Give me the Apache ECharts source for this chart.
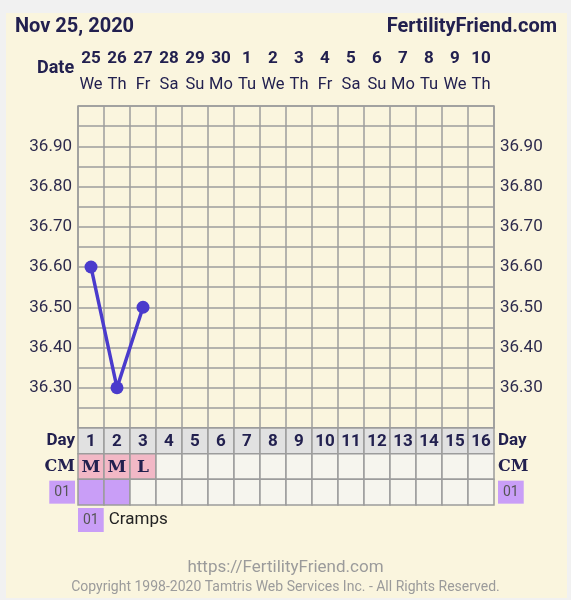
<!DOCTYPE html>
<html>
<head>
<meta charset="utf-8">
<script src="https://cdn.jsdelivr.net/npm/echarts@6/dist/echarts.min.js"></script>
<style>
html,body{margin:0;padding:0;background:#f1f1f1;}
#chart{width:571px;height:600px;}
</style>
</head>
<body>
<div id="chart"></div>
<script>
// ---- data ----
const dateNums = ['25','26','27','28','29','30','1','2','3','4','5','6','7','8','9','10'];
const weekdays = ['We','Th','Fr','Sa','Su','Mo','Tu','We','Th','Fr','Sa','Su','Mo','Tu','We','Th'];
const cycleDays = ['1','2','3','4','5','6','7','8','9','10','11','12','13','14','15','16'];
const temps = [36.60, 36.30, 36.50, null, null, null, null, null, null, null, null, null, null, null, null, null];
const cmValues = ['M','M','L','','','','','','','','','','','','',''];
const symptom01 = [1,1,0,0,0,0,0,0,0,0,0,0,0,0,0,0];
const tempTicks = [36.30, 36.40, 36.50, 36.60, 36.70, 36.80, 36.90];
const rowLabels = ['Day','CM','01'];
const titleLeft = 'Nov 25, 2020';
const titleRight = 'FertilityFriend.com';
const footerUrl = 'https://FertilityFriend.com';
const footerCopy = 'Copyright 1998-2020 Tamtris Web Services Inc. - All Rights Reserved.';

const NAVY = '#22204f';
const GRID = '#9c9c9c';
const PURPLE = '#c99ef7';
const cats = cycleDays.map((d, i) => i);

const cells = [];
cycleDays.forEach((d, i) => {
  cells.push([i, 0, '#e1e1e1', d]);
  cells.push([i, 1, cmValues[i] ? '#f2b8c6' : '#f6f5ee', cmValues[i]]);
  cells.push([i, 2, symptom01[i] ? PURPLE : '#f6f5ee', '']);
});

const tickFmt = v => tempTicks.some(t => Math.abs(t - v) < 1e-6) ? v.toFixed(2) : '';

const rowLabelRich = {
  day: {fontFamily: 'Roboto', fontWeight: 'bold', fontSize: 17, color: NAVY},
  cm: {fontFamily: 'DejaVu Serif', fontWeight: 'bold', fontSize: 16, color: NAVY},
  box: {fontFamily: 'Roboto', fontSize: 14, color: '#555', backgroundColor: PURPLE, padding: [5, 5, 4, 5]}
};
const rowLabelFmt = v => v === 'Day' ? '{day|Day}' : v === 'CM' ? '{cm|CM}' : '{box|' + v + '}';

const chart = echarts.init(document.getElementById('chart'));
chart.setOption({
  backgroundColor: '#f1f1f1',
  animation: false,
  graphic: [{type: 'rect', shape: {x: 6, y: 13, width: 561, height: 585}, style: {fill: '#faf5de'}, z: -10}],
  title: [
    {text: titleLeft, left: 15, top: 17, padding: 0, textStyle: {fontFamily: 'Roboto', fontWeight: 'bold', fontSize: 20, color: NAVY}},
    {text: titleRight, right: 14, top: 17, padding: 0, textStyle: {fontFamily: 'Roboto', fontWeight: 'bold', fontSize: 20, color: NAVY}},
    {text: 'Date', left: 37, top: 59, padding: 0, textStyle: {fontFamily: 'Roboto', fontWeight: 'bold', fontSize: 18, color: NAVY}},
    {text: '{box|01} {t|Cramps}', left: 78, top: 508, padding: 0, textStyle: {rich: {
      box: {fontFamily: 'Roboto', fontSize: 14, color: '#555', backgroundColor: PURPLE, padding: [5, 5, 5, 5]},
      t: {fontFamily: 'Roboto', fontWeight: 'normal', fontSize: 17, color: '#222'}
    }, fontWeight: 'normal'}},
    {text: footerUrl, left: 'center', top: 559, padding: 0, textStyle: {fontFamily: 'Roboto', fontWeight: 'normal', fontSize: 17, color: '#9b9b9b'}},
    {text: footerCopy, left: 'center', top: 580, padding: 0, textStyle: {fontFamily: 'Roboto', fontWeight: 'normal', fontSize: 14, color: '#9b9b9b'}}
  ],
  grid: [
    {left: 78, top: 106, width: 416, height: 322, show: true, borderColor: GRID, borderWidth: 1.5, backgroundColor: 'transparent'},
    {left: 78, top: 428, width: 416, height: 77}
  ],
  xAxis: [
    {type: 'category', gridIndex: 0, data: cats, position: 'top', boundaryGap: true,
     axisLine: {show: false}, axisTick: {show: false},
     splitLine: {show: true, interval: 0, lineStyle: {color: GRID, width: 1.5}},
     axisLabel: {interval: 0, margin: 8, formatter: (v, i) => '{n|' + dateNums[i] + '}\n{d|' + weekdays[i] + '}',
       rich: {
         n: {fontFamily: 'Roboto', fontWeight: 'bold', fontSize: 17, color: NAVY, lineHeight: 26},
         d: {fontFamily: 'Roboto', fontSize: 16.5, color: NAVY, lineHeight: 26}
       }}},
    {type: 'category', gridIndex: 1, data: cats, show: false}
  ],
  yAxis: [
    {type: 'value', gridIndex: 0, min: 36.2, max: 37.0, interval: 0.05, position: 'left',
     axisLine: {show: false}, axisTick: {show: false},
     splitLine: {show: true, lineStyle: {color: GRID, width: 1.5}},
     axisLabel: {formatter: tickFmt, margin: 6, fontFamily: 'Roboto', fontSize: 17, color: '#2d2b4d'}},
    {type: 'value', gridIndex: 0, min: 36.2, max: 37.0, interval: 0.05, position: 'right',
     axisLine: {show: false}, axisTick: {show: false}, splitLine: {show: false},
     axisLabel: {formatter: tickFmt, margin: 6, fontFamily: 'Roboto', fontSize: 17, color: '#2d2b4d'}},
    {type: 'category', gridIndex: 1, data: rowLabels, inverse: true, position: 'left',
     axisLine: {show: false}, axisTick: {show: false},
     axisLabel: {margin: 3, formatter: rowLabelFmt, rich: rowLabelRich}},
    {type: 'category', gridIndex: 1, data: rowLabels, inverse: true, position: 'right',
     axisLine: {show: false}, axisTick: {show: false},
     axisLabel: {margin: 4, formatter: rowLabelFmt, rich: rowLabelRich}}
  ],
  series: [
    {type: 'line', xAxisIndex: 0, yAxisIndex: 0, data: temps, connectNulls: false,
     symbol: 'circle', symbolSize: 13, showAllSymbol: true,
     lineStyle: {color: '#4a3bcc', width: 3.5}, itemStyle: {color: '#4a3bcc'}, z: 5},
    {type: 'custom', xAxisIndex: 1, yAxisIndex: 2, data: cells,
     renderItem: (params, api) => {
       const c = api.coord([api.value(0), api.value(1)]);
       const s = api.size([1, 1]);
       const d = cells[params.dataIndex];
       const row = d[1];
       const font = row === 1 ? 'bold 17px "DejaVu Serif"' : 'bold 17px Roboto';
       return {type: 'group', children: [
         {type: 'rect', shape: {x: c[0] - s[0] / 2, y: c[1] - s[1] / 2, width: s[0], height: s[1]},
          style: {fill: d[2], stroke: GRID, lineWidth: 1.5}},
         {type: 'text', x: c[0], y: c[1] + 1, style: {text: d[3], align: 'center', verticalAlign: 'middle', font: font, fill: NAVY}}
       ]};
     }}
  ]
});
</script>
</body>
</html>
